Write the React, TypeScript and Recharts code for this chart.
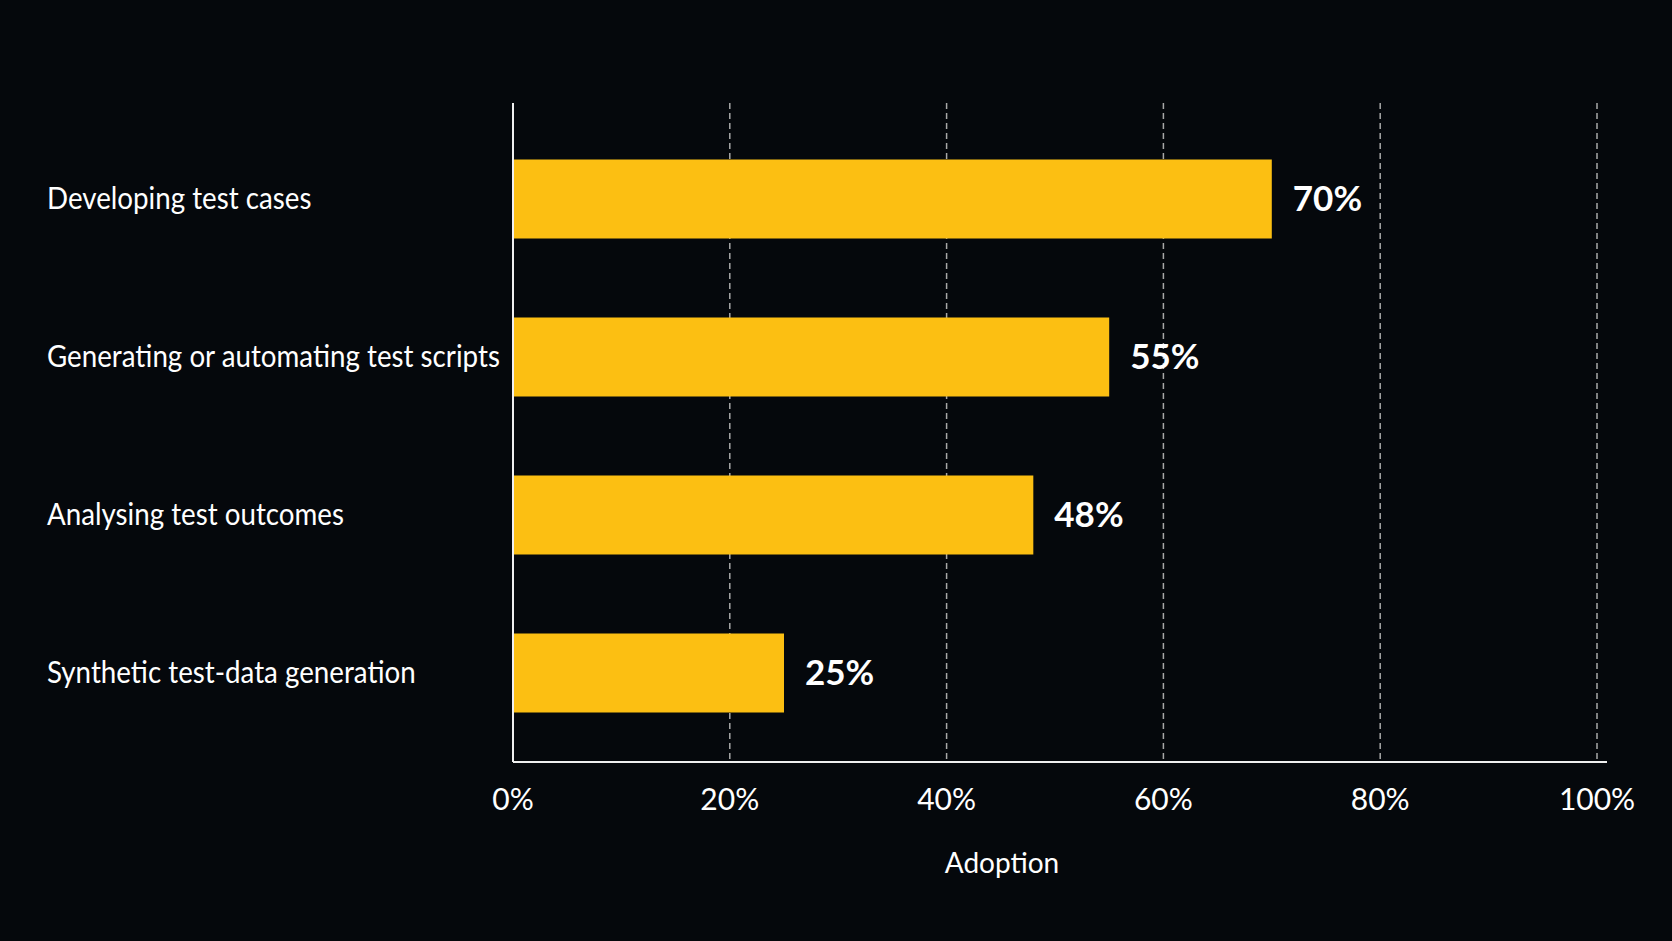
import React from 'react';
import { BarChart, Bar, XAxis, YAxis, CartesianGrid, LabelList } from 'recharts';

// Use-case categories and their adoption share (percent)
const categories = [
  'Developing test cases',
  'Generating or automating test scripts',
  'Analysing test outcomes',
  'Synthetic test-data generation',
];
const adoption = [70, 55, 48, 25];
const xTicks = [0, 20, 40, 60, 80, 100];
const axisTitle = 'Adoption';

const data = categories.map((name, i) => ({ name, value: adoption[i] }));

const BG = '#05080c';
const BAR = '#fcbf12';
const FONT = 'Lato, "Noto Sans", sans-serif';

const CategoryTick = (props: any) => {
  const { x, y, payload } = props;
  return (
    <g transform={`translate(${x - 466},${y}) scale(0.925,1)`}>
      <text x={0} y={0} dy={10} textAnchor="start" fill="#ffffff" fontFamily={FONT} fontSize={30}>
        {payload.value}
      </text>
    </g>
  );
};

const PercentTick = (props: any) => {
  const { x, y, payload } = props;
  return (
    <text x={x} y={y} dy={48} textAnchor="middle" fill="#ffffff" fontFamily={FONT} fontSize={30}>
      {`${payload.value}%`}
    </text>
  );
};

const AxisTitle = (props: any) => {
  const { viewBox } = props;
  return (
    <text
      x={viewBox.x + viewBox.width / 2 - 58}
      y={viewBox.y + 111}
      textAnchor="middle"
      fill="#ffffff"
      fontFamily={FONT}
      fontSize={28}
    >
      {axisTitle}
    </text>
  );
};

// Vertical grid lines only at the percent ticks, not at the plot edge
const gridAtTicks = (args: any) => {
  const scale = args?.xAxis?.scale;
  if (scale && typeof scale === 'function') {
    return xTicks.map((t) => scale(t));
  }
  const off = args?.offset;
  if (off) {
    const span = off.width - 10;
    return xTicks.map((t) => off.left + (span * t) / 100);
  }
  return [];
};

export default function App() {
  return (
    <div style={{ position: 'absolute', left: 0, top: 0, width: 1672, height: 941, background: BG }}>
      <BarChart
        width={1672}
        height={941}
        data={data}
        layout="vertical"
        margin={{ top: 103, right: 65, bottom: 59, left: 0 }}
      >
        <CartesianGrid
          horizontal={false}
          stroke="#a8a8a8"
          strokeWidth={1.5}
          strokeDasharray="6 4"
          verticalCoordinatesGenerator={gridAtTicks}
        />
        <XAxis
          type="number"
          domain={[0, 100]}
          ticks={xTicks}
          interval={0}
          height={120}
          padding={{ left: 0, right: 10 }}
          axisLine={{ stroke: '#f0f0f0', strokeWidth: 2 }}
          tickLine={false}
          tickSize={0}
          tickMargin={0}
          tick={<PercentTick />}
          label={<AxisTitle />}
        />
        <YAxis
          type="category"
          dataKey="name"
          width={513}
          padding={{ top: 16.5, bottom: 10.5 }}
          axisLine={{ stroke: '#f0f0f0', strokeWidth: 2 }}
          tickLine={false}
          tickSize={0}
          tickMargin={0}
          tick={<CategoryTick />}
          interval={0}
        />
        <Bar dataKey="value" fill={BAR} barSize={79} isAnimationActive={false}>
          <LabelList
            dataKey="value"
            position="right"
            offset={21}
            formatter={(v: any) => `${v}%`}
            fill="#ffffff"
            fontFamily={FONT}
            fontWeight={700}
            fontSize={35}
          />
        </Bar>
      </BarChart>
    </div>
  );
}
